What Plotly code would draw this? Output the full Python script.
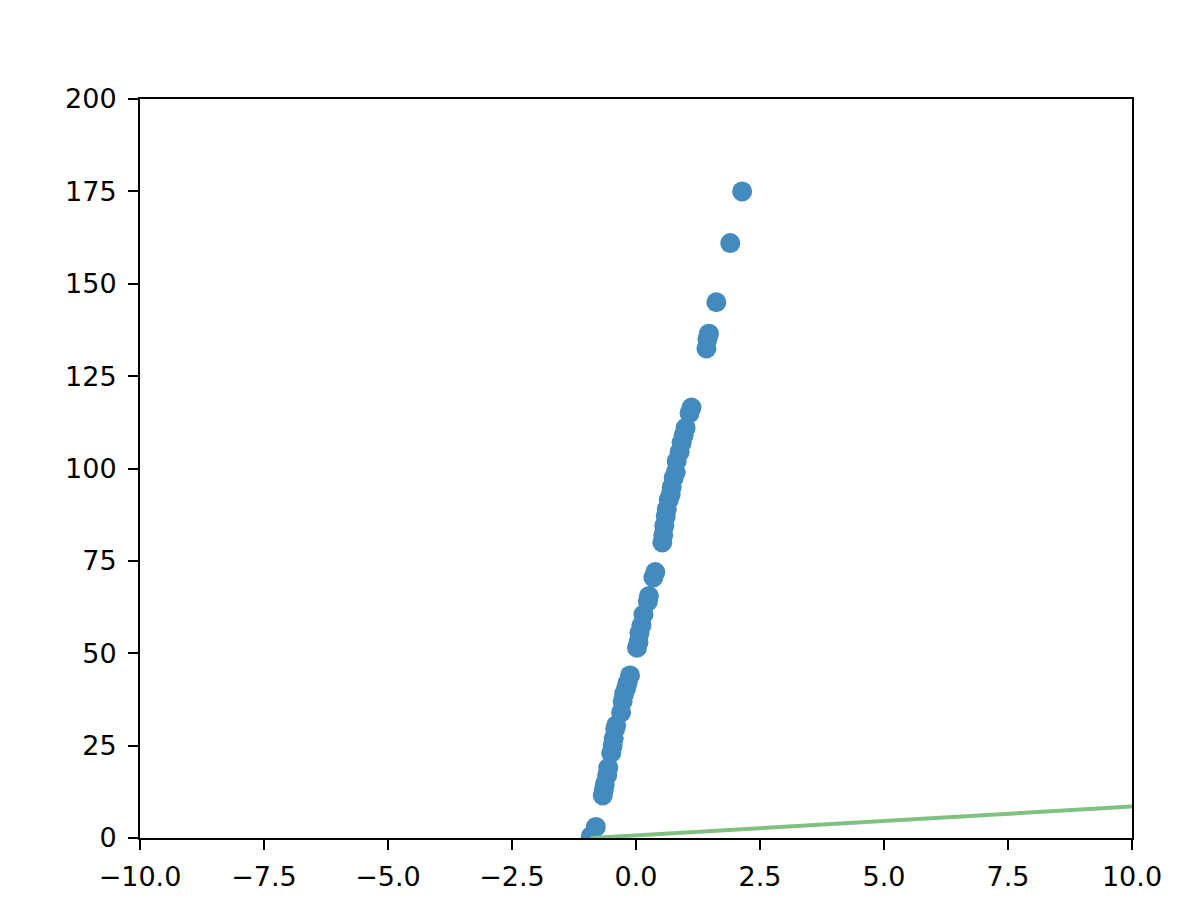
import plotly.graph_objects as go

# scatter data
x_pts = [-0.91, -0.81, -0.67, -0.65, -0.63, -0.58, -0.56, -0.50, -0.47, -0.45,
         -0.42, -0.40, -0.30, -0.27, -0.24, -0.20, -0.17, -0.12, 0.02, 0.05,
         0.07, 0.11, 0.15, 0.24, 0.26, 0.35, 0.39, 0.53, 0.55, 0.57,
         0.60, 0.62, 0.66, 0.70, 0.72, 0.76, 0.80, 0.82, 0.88, 0.92,
         0.96, 1.00, 1.08, 1.12, 1.42, 1.44, 1.47, 1.62, 1.90, 2.14]
y_pts = [0.5, 3.0, 11.5, 13.0, 14.5, 17.0, 19.0, 23.0, 25.0, 27.0,
         29.5, 30.5, 34.0, 37.0, 39.0, 40.5, 42.0, 44.0, 51.5, 53.0,
         55.5, 57.5, 60.5, 64.0, 65.5, 70.5, 72.0, 80.0, 82.0, 84.5,
         87.0, 89.0, 91.5, 93.0, 95.0, 97.5, 99.0, 102.0, 104.5, 107.0,
         109.0, 111.0, 115.0, 116.5, 132.5, 135.0, 136.5, 145.0, 161.0, 175.0]

# fitted line endpoints
line_x = [-0.91, 10.0]
line_y = [0.0, 8.5]

x_ticks = [-10.0, -7.5, -5.0, -2.5, 0.0, 2.5, 5.0, 7.5, 10.0]
x_tick_text = ["\u221210.0", "\u22127.5", "\u22125.0", "\u22122.5", "0.0", "2.5", "5.0", "7.5", "10.0"]
y_ticks = [0, 25, 50, 75, 100, 125, 150, 175, 200]
y_tick_text = [str(v) for v in y_ticks]

fig = go.Figure()
fig.add_trace(go.Scatter(
    x=x_pts, y=y_pts, mode="markers",
    marker=dict(size=20, color="#438bbf", line=dict(width=0)),
    cliponaxis=True, showlegend=False,
))
fig.add_trace(go.Scatter(
    x=line_x, y=line_y, mode="lines",
    line=dict(color="#80c080", width=4),
    showlegend=False,
))

axis_common = dict(
    showgrid=False, zeroline=False, showline=True, linecolor="black", linewidth=2,
    mirror=True, ticks="outside", ticklen=10, tickwidth=2, tickcolor="black",
    tickfont=dict(family="DejaVu Sans", size=27, color="black"),
)
fig.update_xaxes(range=[-10, 10], tickvals=x_ticks, ticktext=x_tick_text,
                 ticklabelstandoff=4, **axis_common)
fig.update_yaxes(range=[0, 200], tickvals=y_ticks, ticktext=y_tick_text,
                 ticklabelstandoff=6, **axis_common)

fig.update_layout(
    width=1180, height=906,
    margin=dict(l=132, r=56, t=91, b=76),
    plot_bgcolor="white", paper_bgcolor="white",
    font=dict(family="DejaVu Sans", color="black"),
)

fig.write_html("out.html")
